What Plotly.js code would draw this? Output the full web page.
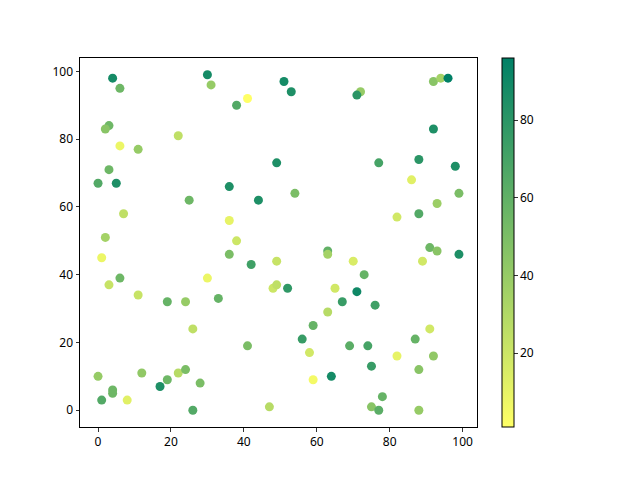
<!DOCTYPE html>
<html>
<head>
<meta charset="utf-8">
<script src="https://cdn.plot.ly/plotly-3.0.1.min.js"></script>
<style>html,body{margin:0;padding:0;background:#fff;}#chart{width:640px;height:480px;}</style>
</head>
<body>
<div id="chart"></div>
<script>
var xValues = [4,6,30,31,41,38,3,2,22,6,11,3,0,5,36,49,44,25,7,36,2,38,
  51,53,72,71,92,94,96,92,77,88,98,54,86,99,93,88,82,
  1,36,42,49,6,30,3,48,49,11,19,24,33,26,41,0,12,17,19,22,24,28,4,4,1,8,26,47,
  63,63,70,91,93,99,89,73,52,65,71,67,76,63,59,56,58,69,74,75,91,87,82,92,88,59,64,78,75,77,88];
var yValues = [98,95,99,96,92,90,84,83,81,78,77,71,67,67,66,73,62,62,58,56,51,50,
  97,94,94,93,97,98,98,83,73,74,72,64,68,64,61,58,57,
  45,46,43,44,39,39,37,36,37,34,32,32,33,24,19,10,11,7,9,11,12,8,6,5,3,3,0,1,
  47,46,44,48,47,46,44,40,36,36,35,32,31,29,25,21,17,19,19,13,24,21,16,16,12,9,10,4,1,0,0];
var colorValues = [88,55,88,40,1,65,55,45,25,8,40,55,65,85,85,85,85,55,25,10,35,20,
  88,85,40,80,45,35,96,85,70,80,85,50,12,50,38,65,18,
  8,50,72,22,55,8,22,20,25,22,58,40,58,25,50,40,42,85,55,28,50,50,55,55,65,12,65,28,
  60,35,15,55,45,85,18,58,78,18,90,75,72,28,58,75,18,62,70,75,18,58,10,42,45,5,88,58,45,62,40];

var trace = {
  type: 'scatter',
  mode: 'markers',
  x: xValues,
  y: yValues,
  marker: {
    size: 9,
    color: colorValues,
    colorscale: [[0, 'rgb(255,255,102)'], [1, 'rgb(0,128,102)']],
    line: {width: 0},
    showscale: true,
    colorbar: {
      x: 1.063, xanchor: 'left', xref: 'paper',
      y: 0.5, yanchor: 'middle', yref: 'paper',
      len: 1, lenmode: 'fraction',
      thickness: 12, thicknessmode: 'pixels',
      xpad: 0, ypad: 0,
      outlinewidth: 1, outlinecolor: '#000',
      ticks: 'outside', ticklen: 3.5, tickwidth: 0.8, tickcolor: '#000',
      tickvals: [20, 40, 60, 80],
      tickfont: {family: 'Noto Sans, DejaVu Sans, sans-serif', size: 12, color: '#000'}
    }
  },
  hoverinfo: 'none'
};

var axisCommon = {
  showgrid: false, zeroline: false,
  showline: true, linecolor: '#000', linewidth: 1, mirror: true,
  ticks: 'outside', ticklen: 3.5, tickwidth: 0.8, tickcolor: '#000',
  tickfont: {family: 'Noto Sans, DejaVu Sans, sans-serif', size: 12, color: '#000'}
};

var layout = {
  width: 640, height: 480,
  margin: {l: 80, r: 163, t: 58, b: 53, pad: 0},
  paper_bgcolor: '#fff', plot_bgcolor: '#fff',
  showlegend: false,
  xaxis: Object.assign({}, axisCommon, {range: [-4.95, 103.95], tickvals: [0, 20, 40, 60, 80, 100]}),
  yaxis: Object.assign({}, axisCommon, {range: [-4.95, 103.95], tickvals: [0, 20, 40, 60, 80, 100]})
};

Plotly.newPlot('chart', [trace], layout, {staticPlot: true, displayModeBar: false});
</script>
</body>
</html>
